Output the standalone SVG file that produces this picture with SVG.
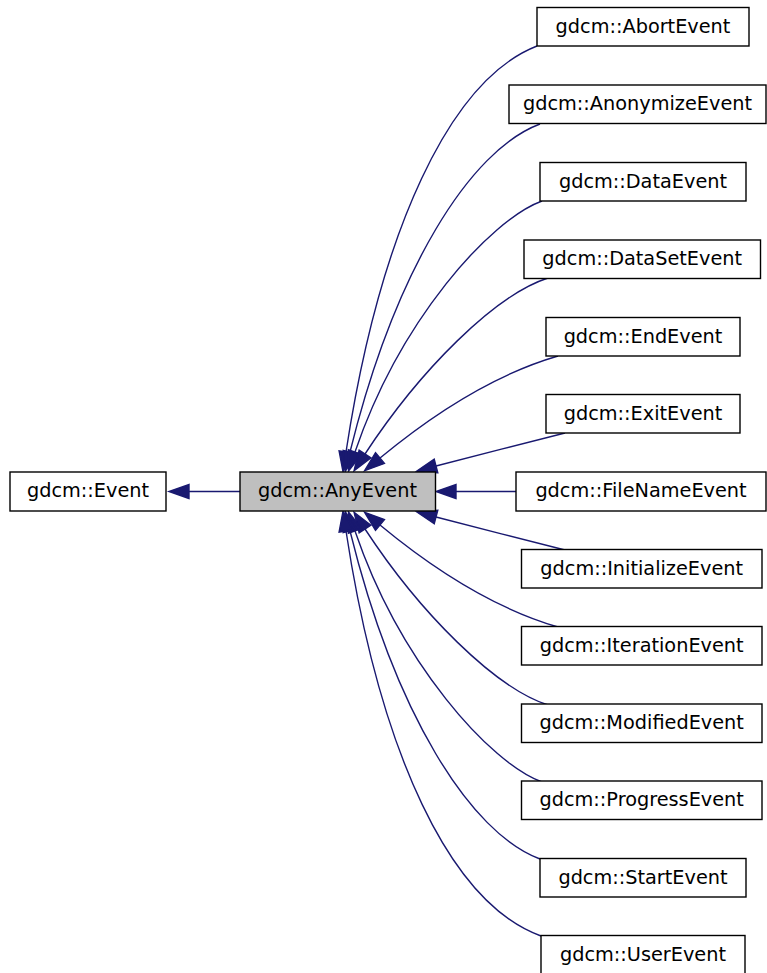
<svg xmlns="http://www.w3.org/2000/svg" width="767" height="973" viewBox="0 0 767 973">
<style>
.node rect{fill:#ffffff;stroke:#000000;stroke-width:1.4}
.node.hl rect{fill:#bfbfbf}
.node text{font-family:"DejaVu Sans","Liberation Sans",sans-serif;font-size:19.3px;fill:#000000;text-anchor:middle}
.edges path{fill:none;stroke:#191970;stroke-width:1.4;marker-end:url(#arr)}
</style>
<defs>
<marker id="arr" markerUnits="userSpaceOnUse" viewBox="-2 -9 24 18" markerWidth="24" markerHeight="18" refX="0" refY="0" orient="auto" overflow="visible">
<path d="M0,-7 L20,0 L0,7 Z" fill="#191970" stroke="#191970" stroke-width="1.4"/>
</marker>
</defs>
<rect width="767" height="973" fill="#ffffff"/>
<g class="edges" id="edges">
<path d="M240,491.5 L189,491.5"/>
<path d="M537,46 C450,80 380,230 346,452"/>
<path d="M540,124 C470,150 395,270 350,452"/>
<path d="M542,201 C490,220 400,320 355,452"/>
<path d="M548,278 C495,295 420,370 365,454"/>
<path d="M558,356 C510,370 450,400 380,458"/>
<path d="M565,433 C530,442 470,457 436,466"/>
<path d="M516,491.5 L456,491.5"/>
<path d="M565,550 C530,541 470,526 436,517"/>
<path d="M558,627 C510,613 450,583 380,525"/>
<path d="M548,705 C495,688 420,613 365,529"/>
<path d="M542,782 C490,763 400,663 355,531"/>
<path d="M540,859 C470,833 395,713 350,531"/>
<path d="M541,936 C450,903 380,753 346,531"/>
</g>
<g class="node" id="Event"><rect x="10" y="472" width="156" height="39"/><text x="88" y="497">gdcm::Event</text></g>
<g class="node hl" id="AnyEvent"><rect x="240" y="472" width="195.5" height="39"/><text x="337.5" y="497">gdcm::AnyEvent</text></g>
<g class="node" id="AbortEvent"><rect x="537" y="7.5" width="212" height="38.5"/><text x="643" y="32.5">gdcm::AbortEvent</text></g>
<g class="node" id="AnonymizeEvent"><rect x="509" y="85" width="257" height="38.5"/><text x="637.5" y="110">gdcm::AnonymizeEvent</text></g>
<g class="node" id="DataEvent"><rect x="540" y="162.5" width="206" height="38.5"/><text x="643" y="187.5">gdcm::DataEvent</text></g>
<g class="node" id="DataSetEvent"><rect x="524" y="240" width="236.5" height="38.5"/><text x="642.2" y="265">gdcm::DataSetEvent</text></g>
<g class="node" id="EndEvent"><rect x="546" y="317.5" width="194" height="38.5"/><text x="643" y="342.5">gdcm::EndEvent</text></g>
<g class="node" id="ExitEvent"><rect x="546" y="394.5" width="194" height="38.5"/><text x="643" y="419.5">gdcm::ExitEvent</text></g>
<g class="node" id="FileNameEvent"><rect x="516" y="472" width="250" height="39"/><text x="641" y="497">gdcm::FileNameEvent</text></g>
<g class="node" id="InitializeEvent"><rect x="521.5" y="549.5" width="240.5" height="38.5"/><text x="641.7" y="574.5">gdcm::InitializeEvent</text></g>
<g class="node" id="IterationEvent"><rect x="521.5" y="626.5" width="240.5" height="38.5"/><text x="641.7" y="651.5">gdcm::IterationEvent</text></g>
<g class="node" id="ModifiedEvent"><rect x="521.5" y="704" width="240.5" height="38.5"/><text x="641.7" y="729">gdcm::ModifiedEvent</text></g>
<g class="node" id="ProgressEvent"><rect x="521.5" y="781" width="240.5" height="38.5"/><text x="641.7" y="806">gdcm::ProgressEvent</text></g>
<g class="node" id="StartEvent"><rect x="540" y="858.5" width="206" height="38.5"/><text x="643" y="883.5">gdcm::StartEvent</text></g>
<g class="node" id="UserEvent"><rect x="541" y="935.5" width="204" height="38.5"/><text x="643" y="960.5">gdcm::UserEvent</text></g>
</svg>
